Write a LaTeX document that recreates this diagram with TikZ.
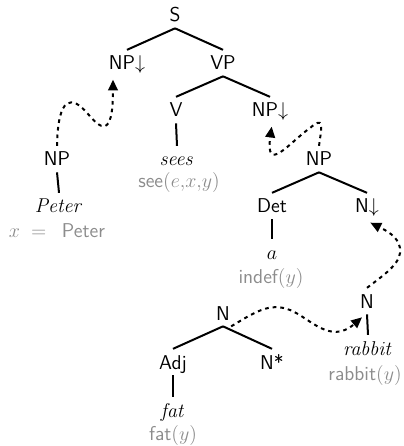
\documentclass[tikz,border=0pt]{standalone}
\usetikzlibrary{arrows.meta}
\newcommand{\lfont}{\fontsize{12}{14}\selectfont\sffamily}
\tikzset{
  lab/.style={font=\lfont, inner sep=0pt, outer sep=3.8pt, text height=8.3pt, text depth=0pt, anchor=base},
  sem/.style={lab, text=black!45},
  edge/.style={line width=1.2pt},
  link/.style={line width=1.2pt, dash pattern=on 2.2pt off 2.4pt, -{Triangle[length=6.5pt,width=5.8pt]}},
}
\begin{document}
\begin{tikzpicture}[x=0.6pt,y=-0.6pt]
\useasboundingbox (0,0) rectangle (403,446);
% nodes (baseline positions)
\node[lab] (S)   at (175,22)  {S};
\node[lab] (NPl) at (127,70)  {NP$\downarrow$};
\node[lab] (VP)  at (223,70)  {VP};
\node[lab] (V)   at (176,117) {V};
\node[lab] (NPr) at (270,117) {NP$\downarrow$};
\node[lab] (NPp) at (57,166)  {NP};
\node[lab] (sees) at (177,166) {$\mathit{sees}$};
\node[sem] (see) at (179,188) {see$(e{,}x{,}y)$};
\node[lab] (NPa) at (319,166) {NP};
\node[lab] (Peter) at (59,213) {$\mathit{Peter}$};
\node[sem] (xP)  at (57,237)  {$x\;=\;$\hspace{6pt}Peter};
\node[lab] (Det) at (272,213) {Det};
\node[lab] (Nd)  at (367,213) {N$\downarrow$};
\node[lab] (a)   at (272,259) {$a$};
\node[sem] (indef) at (271,283) {indef$(y)$};
\node[lab] (Nr)  at (367,308) {N};
\node[lab] (rabbit) at (368,355) {$\mathit{rabbit}$};
\node[sem] (rabbity) at (365,380) {rabbit$(y)$};
\node[lab] (Nf)  at (223,320) {N};
\node[lab] (Adj) at (173,369) {Adj};
\node[lab] (Ns)  at (272,369) {N*};
\node[lab] (fat) at (173,417) {$\mathit{fat}$};
\node[sem] (faty) at (173,440) {fat$(y)$};
% tree edges
\draw[edge] (S.south) -- (NPl.north);
\draw[edge] (S.south) -- (VP.north);
\draw[edge] (VP.south) -- (V.north);
\draw[edge] (VP.south) -- (NPr.north);
\draw[edge] (V.south) -- (sees.north);
\draw[edge] (NPp.south) -- (Peter.north);
\draw[edge] (NPa.south) -- (Det.north);
\draw[edge] (NPa.south) -- (Nd.north);
\draw[edge] (Det.south) -- (a.north);
\draw[edge] (Nr.south) -- (rabbit.north);
\draw[edge] (Nf.south) -- (Adj.north);
\draw[edge] (Nf.south) -- (Ns.north);
\draw[edge] (Adj.south) -- (fat.north);
% substitution / adjunction links
\draw[link] (NPp.north) .. controls (58,95) and (72,95) .. (88,114)
  .. controls (100,128) and (113,140) .. ([xshift=-8.4pt,yshift=-2pt]NPl.south);
\draw[link] (NPa.north) .. controls (322,125) and (324,116) .. (310,128)
  .. controls (290,142) and (265,175) .. ([xshift=1pt,yshift=-2pt]NPr.south);
\draw[link] (Nr.north) .. controls (388,272) and (402,262) .. (400,248)
  .. controls (398,236) and (385,230) .. ([xshift=2pt,yshift=-2pt]Nd.south);
\draw[link] ([xshift=-3pt]Nf.south east) .. controls (255,312) and (270,302) .. (290,310)
  .. controls (310,318) and (330,345) .. ([xshift=-3pt,yshift=-1.8pt]Nr.south);
\end{tikzpicture}
\end{document}
